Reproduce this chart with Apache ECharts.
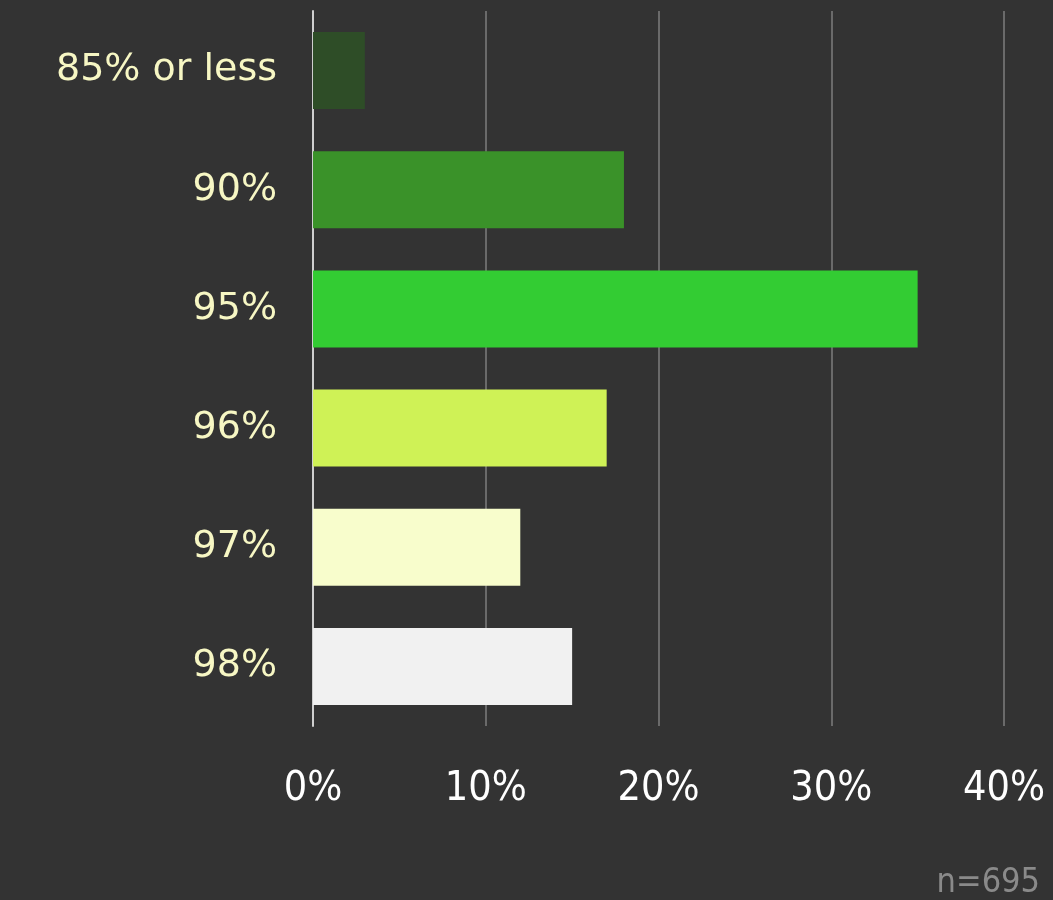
<!DOCTYPE html>
<html>
<head>
<meta charset="utf-8">
<script src="https://cdn.jsdelivr.net/npm/echarts@6/dist/echarts.min.js"></script>
<style>
  html, body { margin: 0; padding: 0; background: #333333; }
  #chart { width: 1053px; height: 900px; }
</style>
</head>
<body>
<div id="chart"></div>
<script>
const categories = ["85% or less", "90%", "95%", "96%", "97%", "98%"];
const shares = [3, 18, 35, 17, 12, 15];
const barColors = ["#2e4d27", "#3a9229", "#33cc33", "#cff256", "#f8fdcc", "#f1f1f1"];
const tickValues = [0, 10, 20, 30, 40];
const sampleNote = "n=695";

const chart = echarts.init(document.getElementById("chart"));

chart.setOption({
  backgroundColor: "#333333",
  animation: false,
  grid: { left: 313, right: 49, top: 11, bottom: 174 },
  xAxis: {
    type: "value",
    min: tickValues[0],
    max: tickValues[tickValues.length - 1],
    interval: 10,
    axisLine: { show: false },
    axisTick: { show: false },
    axisLabel: {
      color: "#ffffff",
      fontFamily: "'Liberation Sans Narrow', 'DejaVu Sans Condensed', Roboto, sans-serif",
      fontSize: 41,
      margin: 43,
      formatter: v => v + "%"
    },
    splitLine: { lineStyle: { color: "#6a6a6a", width: 2 } }
  },
  yAxis: {
    type: "category",
    inverse: true,
    data: categories,
    axisLine: { show: true, lineStyle: { color: "#cfcfcf", width: 2 } },
    axisTick: { show: false },
    axisLabel: {
      color: "#f7f7c4",
      fontFamily: "'DejaVu Sans', sans-serif",
      fontSize: 38,
      margin: 36
    }
  },
  series: [{
    type: "bar",
    barWidth: 77,
    data: shares.map((v, i) => ({ value: v, itemStyle: { color: barColors[i] } })),
    z: 1
  }],
  graphic: [{
    type: "text",
    right: 13,
    bottom: 0,
    style: {
      text: sampleNote,
      fill: "#8a8a8a",
      fontFamily: "'DejaVu Sans Condensed', 'DejaVu Sans Mono', monospace",
      fontSize: 34
    }
  }]
});
</script>
</body>
</html>
